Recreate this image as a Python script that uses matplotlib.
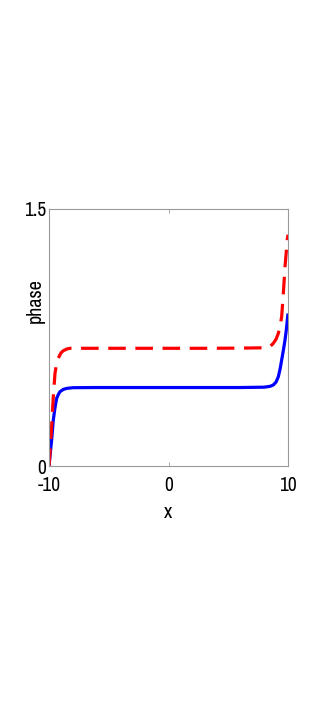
import numpy as np
import matplotlib.pyplot as plt

# values
x_blue = [-10, -9.92, -9.78, -9.64, -9.5, -9.36, -9.2, -9.08, -8.8, -8.52, -8.0, -6, -3, 0, 3, 6, 8.0, 8.5,
          8.77, 9.0, 9.19, 9.35, 9.47, 9.6, 9.75, 9.87, 9.97, 10]
y_blue = [0.0, 0.054, 0.152, 0.268, 0.34, 0.395, 0.42, 0.434, 0.447, 0.453, 0.457, 0.458, 0.458, 0.458, 0.458,
          0.458, 0.46, 0.465, 0.473, 0.49, 0.521, 0.57, 0.619, 0.67, 0.736, 0.80, 0.87, 0.89]

x_red = [-10, -9.92, -9.78, -9.64, -9.5, -9.36, -9.22, -9.0, -8.8, -8.5, -8.24, -8.0, -6, -3, 0, 3, 6, 8.0, 8.5,
         8.77, 9.0, 9.19, 9.35, 9.47, 9.61, 9.75, 9.87, 9.94, 10]
y_red = [0.0, 0.075, 0.23, 0.405, 0.54, 0.60, 0.63, 0.66, 0.673, 0.683, 0.687, 0.687, 0.687, 0.687, 0.687, 0.687,
         0.688, 0.69, 0.697, 0.716, 0.74, 0.774, 0.82, 0.872, 1.008, 1.163, 1.26, 1.323, 1.35]

xticks = [-10, 0, 10]
yticks = [0, 1.5]

plt.rcParams['font.family'] = ['Archivo Narrow', 'Liberation Sans', 'DejaVu Sans']

fig = plt.figure(figsize=(3.27, 7.08), dpi=100)
ax = fig.add_axes([49 / 327, 1 - 466 / 708, 239 / 327, 257 / 708])

ax.plot(x_blue, y_blue, color='#0000ff', lw=2.3, solid_capstyle='butt')
ax.plot(x_red, y_red, color='#ff0000', lw=2.3, dashes=(5.5, 3.0))

ax.set_xlim(-10, 10)
ax.set_ylim(0, 1.5)
ax.set_xticks(xticks)
ax.set_yticks(yticks)
ax.set_xticklabels(['-10', '0', '10'])
ax.set_yticklabels(['0', '1.5'])
ax.tick_params(direction='in', length=3, width=0.6, color='#999999', labelsize=14,
               top=True, right=True)
ax.tick_params(axis='x', pad=7)
ax.tick_params(axis='y', pad=2)
for s in ax.spines.values():
    s.set_color('#999999')
    s.set_linewidth(0.8)

ax.set_xlabel('x', fontsize=14.5)
ax.xaxis.set_label_coords(0.5, (466 - 512.5) / 257)
ax.xaxis.label.set_va('center')
ax.set_ylabel('phase', fontsize=14.5)
ax.yaxis.set_label_coords((35.5 - 49) / 239, (466 - 301) / 257)
ax.yaxis.label.set_va('center')

fig.savefig('out.png', dpi=100)
